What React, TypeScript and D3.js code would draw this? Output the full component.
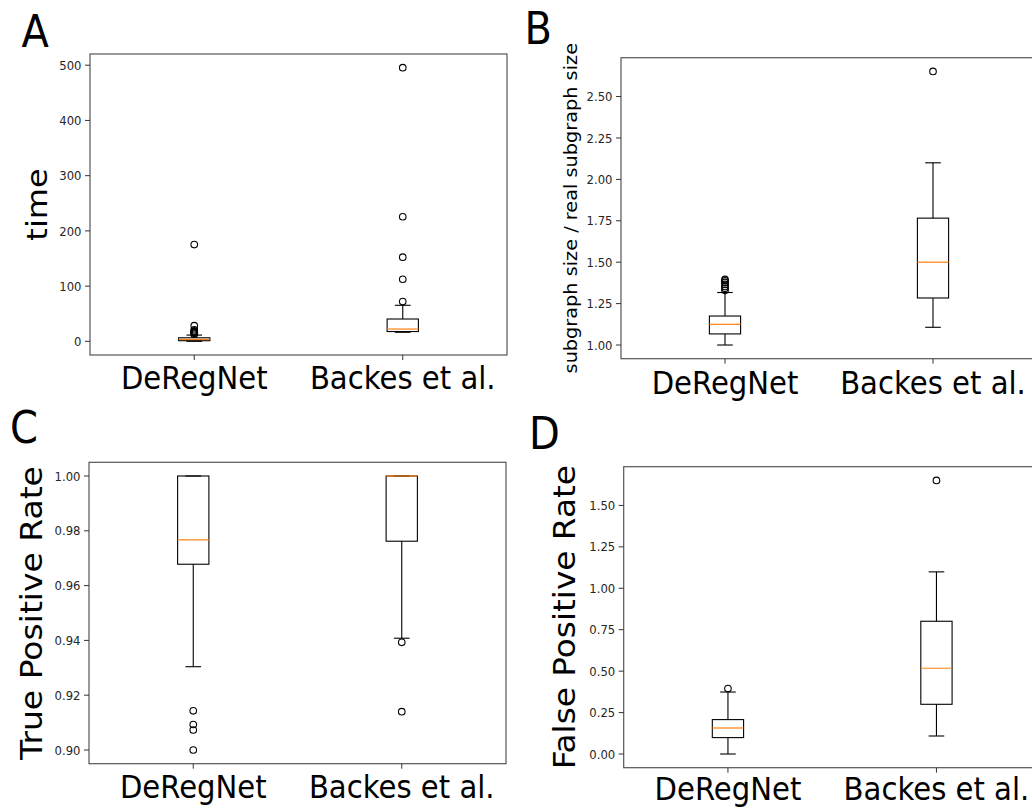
import React from "react";
import * as d3 from "d3";

// ---------- data ----------
const categories = ["DeRegNet", "Backes et al."];

type Box = { lo: number; q1: number; med: number; q3: number; hi: number; out: number[] };

const timeBoxes: Box[] = [
  { lo: 0.1, q1: 1.2, med: 3.5, q3: 6.5, hi: 11.4, out: [13, 14.5, 16, 17.5, 19, 21, 28.5, 175.3] },
  { lo: 16.5, q1: 17.8, med: 22.3, q3: 40.5, hi: 65.3, out: [72, 112.5, 152.4, 225.6, 495.5] },
];
const timeTicks = [0, 100, 200, 300, 400, 500];

const sizeBoxes: Box[] = [
  { lo: 1.0, q1: 1.067, med: 1.125, q3: 1.175, hi: 1.317, out: [1.33, 1.342, 1.354, 1.366, 1.378, 1.388, 1.396] },
  { lo: 1.107, q1: 1.284, med: 1.5, q3: 1.766, hi: 2.1, out: [2.652] },
];
const sizeTicks = [1.0, 1.25, 1.5, 1.75, 2.0, 2.25, 2.5];

const tprBoxes: Box[] = [
  { lo: 0.9304, q1: 0.9678, med: 0.9767, q3: 1.0, hi: 1.0, out: [0.9143, 0.9093, 0.9073, 0.9] },
  { lo: 0.9408, q1: 0.9762, med: 1.0, q3: 1.0, hi: 1.0, out: [0.9393, 0.914] },
];
const tprTicks = [0.9, 0.92, 0.94, 0.96, 0.98, 1.0];

const fprBoxes: Box[] = [
  { lo: 0.0, q1: 0.099, med: 0.157, q3: 0.2077, hi: 0.374, out: [0.395] },
  { lo: 0.1087, q1: 0.3, med: 0.5175, q3: 0.801, hi: 1.099, out: [1.651] },
];
const fprTicks = [0, 0.25, 0.5, 0.75, 1.0, 1.25, 1.5];

// ---------- layout ----------
const SX = 0.91; // horizontal squeeze of the picture's text
const FONT = "DejaVu Sans";

type Panel = {
  letter: string;
  lx: number;
  ly: number;
  left: number;
  top: number;
  width: number;
  height: number;
  boxes: Box[];
  ticks: number[];
  fmt: (v: number) => string;
  ylabel: string;
  ylabelSize: number;
  ylabelX: number;
  catDy: number;
};

const panels: Panel[] = [
  {
    letter: "A", lx: 21.5, ly: 46.7,
    left: 90, top: 54, width: 417, height: 301,
    boxes: timeBoxes, ticks: timeTicks, fmt: d3.format("d"),
    ylabel: "time", ylabelSize: 32, ylabelX: 46.5, catDy: 34.3,
  },
  {
    letter: "B", lx: 524.5, ly: 44.3,
    left: 621, top: 57.7, width: 416, height: 301,
    boxes: sizeBoxes, ticks: sizeTicks, fmt: d3.format(".2f"),
    ylabel: "subgraph size / real subgraph size", ylabelSize: 19.3, ylabelX: 577, catDy: 35.5,
  },
  {
    letter: "C", lx: 10, ly: 443.3,
    left: 89, top: 462.3, width: 417, height: 301.4,
    boxes: tprBoxes, ticks: tprTicks, fmt: d3.format(".2f"),
    ylabel: "True Positive Rate", ylabelSize: 33, ylabelX: 41.5, catDy: 34.6,
  },
  {
    letter: "D", lx: 529, ly: 449.3,
    left: 623.7, top: 466.7, width: 417, height: 301,
    boxes: fprBoxes, ticks: fprTicks, fmt: d3.format(".2f"),
    ylabel: "False Positive Rate", ylabelSize: 32.75, ylabelX: 575, catDy: 32,
  },
];

function T(props: {
  x: number; y: number; size: number; anchor?: string; rot?: boolean; fill?: string; dy?: string;
  children: React.ReactNode;
}) {
  const { x, y, size, anchor = "start", rot = false, fill = "#000", dy } = props;
  return (
    <text
      transform={`translate(${x},${y}) scale(${SX},1)${rot ? " rotate(-90)" : ""}`}
      fontSize={size}
      fontFamily={FONT}
      textAnchor={anchor}
      fill={fill}
      dy={dy}
    >
      {props.children}
    </text>
  );
}

function PanelView({ p }: { p: Panel }) {
  const all: number[] = [];
  p.boxes.forEach((b) => all.push(b.lo, b.hi, b.q1, b.q3, ...b.out));
  const [mn, mx] = d3.extent(all) as [number, number];
  const pad = (mx - mn) * 0.05;
  const y = d3.scaleLinear().domain([mn - pad, mx + pad]).range([p.top + p.height, p.top]);
  const x = d3.scaleLinear().domain([0.5, 2.5]).range([p.left, p.left + p.width]);
  const bw = x(0.15) - x(0);
  const cw = bw / 2;
  const bottom = p.top + p.height;
  const tickColor = "#262626";

  return (
    <g>
      <T x={p.lx} y={p.ly} size={44}>{p.letter}</T>
      {p.boxes.map((b, i) => {
        const cx = x(i + 1);
        return (
          <g key={i}>
            <line x1={cx} x2={cx} y1={y(b.q3)} y2={y(b.hi)} stroke="#000" strokeWidth={1.1} />
            <line x1={cx} x2={cx} y1={y(b.q1)} y2={y(b.lo)} stroke="#000" strokeWidth={1.1} />
            <line x1={cx - cw / 2} x2={cx + cw / 2} y1={y(b.hi)} y2={y(b.hi)} stroke="#000" strokeWidth={1.1} />
            <line x1={cx - cw / 2} x2={cx + cw / 2} y1={y(b.lo)} y2={y(b.lo)} stroke="#000" strokeWidth={1.1} />
            <rect x={cx - bw / 2} y={y(b.q3)} width={bw} height={Math.max(0.5, y(b.q1) - y(b.q3))}
              fill="none" stroke="#000" strokeWidth={1.1} />
            <line x1={cx - bw / 2} x2={cx + bw / 2} y1={y(b.med)} y2={y(b.med)} stroke="#ff7f0e" strokeWidth={1.2} />
            {b.out.map((o, j) => (
              <circle key={j} cx={cx} cy={y(o)} r={3.3} fill="none" stroke="#000" strokeWidth={1.1} />
            ))}
          </g>
        );
      })}
      <rect x={p.left} y={p.top} width={p.width} height={p.height} fill="none" stroke="#555" strokeWidth={1.2} />
      {p.ticks.map((t) => (
        <g key={t}>
          <line x1={p.left - 5} x2={p.left} y1={y(t)} y2={y(t)} stroke="#333" strokeWidth={1} />
          <T x={p.left - 8.5} y={y(t)} size={12.8} anchor="end" fill={tickColor} dy="0.36em">{p.fmt(t)}</T>
        </g>
      ))}
      {categories.map((c, i) => (
        <g key={c}>
          <line x1={x(i + 1)} x2={x(i + 1)} y1={bottom} y2={bottom + 5} stroke="#333" strokeWidth={1} />
          <T x={x(i + 1)} y={bottom + p.catDy} size={32} anchor="middle">{c}</T>
        </g>
      ))}
      <T x={p.ylabelX} y={p.top + p.height / 2} size={p.ylabelSize} anchor="middle" rot>{p.ylabel}</T>
    </g>
  );
}

export default function App() {
  return (
    <svg width={1032} height={808} style={{ position: "absolute", left: 0, top: 0, background: "#fff" }}>
      <rect x={0} y={0} width={1032} height={808} fill="#fff" />
      {panels.map((p) => (
        <PanelView key={p.letter} p={p} />
      ))}
    </svg>
  );
}
